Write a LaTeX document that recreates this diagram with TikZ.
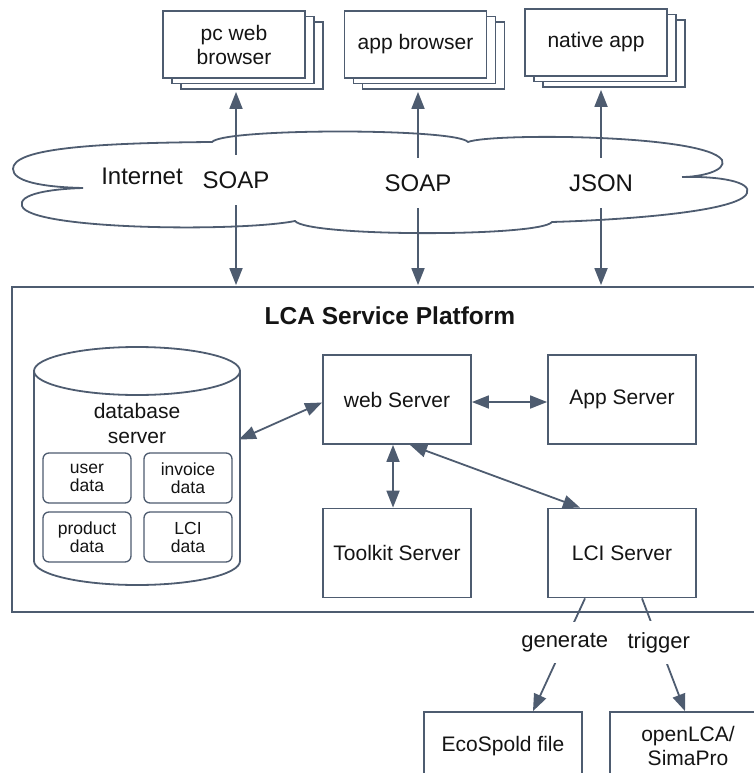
\documentclass[tikz,border=0pt]{standalone}
\usepackage{fontspec}
\setmainfont{Liberation Sans}
\usetikzlibrary{arrows.meta}

\definecolor{edge}{RGB}{78,92,112}
\definecolor{ink}{RGB}{20,20,20}

\tikzset{
  every node/.style={text=ink, font=\fontsize{21}{24}\selectfont, align=center},
  box/.style={draw=edge, line width=1.8pt, fill=white, inner sep=0pt},
  stackbox/.style={box, minimum width=142pt, minimum height=67pt},
  server/.style={box, minimum width=148pt, minimum height=89pt},
  databox/.style={draw=edge, line width=1.3pt, rounded corners=6pt, inner sep=0pt,
    minimum width=88pt, minimum height=50pt, font=\fontsize{17.5}{18}\selectfont},
  proto/.style={font=\fontsize{24}{26}\selectfont, text height=17pt, text depth=0pt,
    inner xsep=2pt, inner ysep=16.5pt},
  tip/.tip={Triangle[length=17pt,width=13pt]},
  link/.style={draw=edge, line width=1.8pt, -tip},
  both/.style={link, tip-tip},
  tag/.style={fill=white, inner xsep=3pt, inner ysep=11pt, font=\fontsize{22}{24}\selectfont},
}

\begin{document}
\begin{tikzpicture}[x=1pt, y=-1pt]
\useasboundingbox (0,0) rectangle (754,773);

% client stacks (two sheets behind each front box)
\foreach \n/\cx/\cy/\txt in {pc/234/44.5/{pc web\\browser}, ab/415.5/44.5/{app browser}, na/596/42.5/{native app}} {
  \node[stackbox] (\n b2) at (\cx+18,\cy+11) {};
  \node[stackbox] (\n b1) at (\cx+9,\cy+5.5) {};
  \node[stackbox] (\n) at (\cx,\cy) {\txt};
}

% internet cloud
\draw[edge, line width=1.8pt, fill=white]
  (83,188) .. controls (40,187) and (13,181) .. (13,169)
  .. controls (13,150) and (80,143) .. (212,142)
  .. controls (224,128) and (456,128) .. (468,142)
  .. controls (490,133) and (705,134) .. (722,160)
  .. controls (727,171) and (700,177) .. (682,177)
  .. controls (720,176) and (752,182) .. (747,193)
  .. controls (740,212) and (620,220) .. (552,222)
  .. controls (540,237) and (308,237) .. (295,221)
  .. controls (240,232) and (30,230) .. (22,206)
  .. controls (18,194) and (50,189) .. (83,188) -- cycle;

\node[font=\fontsize{24}{26}\selectfont] (inet) at (142,176) {Internet};
\node[proto] (p1) at (236,180) {SOAP};
\node[proto] (p2) at (418,183) {SOAP};
\node[proto] (p3) at (601,183) {JSON};

% service platform
\node[draw=edge, line width=1.8pt, minimum width=758pt, minimum height=325pt, inner sep=0pt]
  (plat) at (391,449.5) {};
\node[font=\fontsize{24.5}{26}\selectfont\bfseries] (title) at (390,316) {LCA Service Platform};

% protocol links
\foreach \p/\c in {p1/pcb2, p2/abb2, p3/nab2} {
  \draw[link, shorten >=2pt] (\p.north) -- (\p.north |- \c.south);
  \draw[link, shorten >=1pt] (\p.south) -- (\p.south |- plat.north);
}

% database server
\draw[edge, line width=1.8pt, fill=white]
  (34,371) -- (34,561)
  .. controls (34,574.25) and (80.1,585) .. (137,585)
  .. controls (193.9,585) and (240,574.25) .. (240,561)
  -- (240,371);
\draw[edge, line width=1.8pt] (137,371) ellipse [x radius=103, y radius=24];
\node[inner sep=0pt, minimum width=206pt, minimum height=238pt] (db) at (137,466) {};
\node (dbtxt) at (137,423) {database\\[1pt]server};
\node[databox] (user) at (87,478) {user\\data};
\node[databox] (invoice) at (188,478) {invoice\\data};
\node[databox] (product) at (87,537) {product\\data};
\node[databox] (lcid) at (188,537) {LCI\\data};
\coordinate (dbport) at (238,440);

% application servers
\node[server] (web) at (397,399.5) {web Server};
\node[server] (app) at (622,399.5) {App Server};
\node[server] (tool) at (397,553) {Toolkit Server};
\node[server] (lci) at (622,553) {LCI Server};

\draw[both, shorten <=1pt] (dbport) -- ([yshift=-3pt]web.west);
\draw[both] ([yshift=-2.5pt]web.east) -- ([yshift=-2.5pt]app.west);
\draw[both] ([xshift=-4pt]web.south) -- ([xshift=-4pt]tool.north);
\draw[both] ([xshift=13pt]web.south) -- ([xshift=-42pt]lci.north);

% outputs
\node[box, minimum width=158pt, minimum height=68pt] (eco) at (503,746) {EcoSpold file};
\node[box, minimum width=156pt, minimum height=68pt] (olca) at (688,746) {openLCA/\\SimaPro};

\draw[link] ([xshift=-37pt]lci.south) -- node[tag, pos=0.39] {generate} ([xshift=30pt]eco.north);
\draw[link] ([xshift=20pt]lci.south) -- node[tag, pos=0.39] {trigger} ([xshift=-3pt]olca.north);
\end{tikzpicture}
\end{document}
